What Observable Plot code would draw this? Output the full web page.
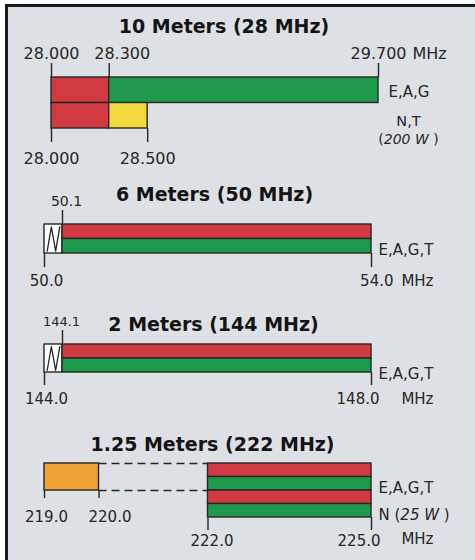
<!DOCTYPE html>
<html><head><meta charset="utf-8">
<script src="https://cdn.jsdelivr.net/npm/d3@7"></script>
<script src="https://cdn.jsdelivr.net/npm/@observablehq/plot@0.6"></script>
<style>
::-webkit-scrollbar{display:none;width:0;height:0;}
html,body{margin:0;padding:0;background:#fff;width:475px;height:560px;overflow:hidden;position:relative;scrollbar-width:none;}
#frame{position:absolute;left:5px;top:4px;width:480px;height:560px;background:#dde0e4;border-left:3px solid #1b1b1b;border-top:3px solid #1b1b1b;}
#charts{position:absolute;left:0;top:0;width:475px;height:560px;overflow:hidden;}
#charts svg{max-width:none;}
</style></head>
<body><div id="frame"></div><div id="charts"></div>
<script>
// ---- legend kinds (band usage) ----
const useKinds = ["RTTY/data", "phone/image", "SSB phone", "CW only", "fixed digital"];
const useFills = ["#d03a40", "#1f9a4c", "#f2d93b", "#ffffff", "#f0a235"];

// ---- 10 Meters ----
const m10Title = "10 Meters (28 MHz)";
const m10Start = [28.0, 28.3, 28.0, 28.3];
const m10End = [28.3, 29.7, 28.3, 28.5];
const m10RowFrom = [0, 0, 1, 1];
const m10RowTo = [1, 1, 2, 2];
const m10Use = ["RTTY/data", "phone/image", "RTTY/data", "SSB phone"];
const m10TopTicks = [28.0, 28.3, 29.7];
const m10TopLabels = ["28.000", "28.300", "29.700"];
const m10BottomTicks = [28.0, 28.5];
const m10BottomLabels = ["28.000", "28.500"];
const m10Classes = ["E,A,G", "N,T"];
const m10Power = ["(200 W )"];

// ---- 6 Meters ----
const m6Title = "6 Meters (50 MHz)";
const m6Start = [50.0, 50.1, 50.1];
const m6End = [50.1, 54.0, 54.0];
const m6RowFrom = [0, 0, 1];
const m6RowTo = [2, 1, 2];
const m6Use = ["CW only", "RTTY/data", "phone/image"];
const m6TopTicks = [50.1];
const m6TopLabels = ["50.1"];
const m6BottomTicks = [50.0, 54.0];
const m6BottomLabels = ["50.0", "54.0"];
const m6Classes = ["E,A,G,T"];

// ---- 2 Meters ----
const m2Title = "2 Meters (144 MHz)";
const m2Start = [144.0, 144.1, 144.1];
const m2End = [144.1, 148.0, 148.0];
const m2RowFrom = [0, 0, 1];
const m2RowTo = [2, 1, 2];
const m2Use = ["CW only", "RTTY/data", "phone/image"];
const m2TopTicks = [144.1];
const m2TopLabels = ["144.1"];
const m2BottomTicks = [144.0, 148.0];
const m2BottomLabels = ["144.0", "148.0"];
const m2Classes = ["E,A,G,T"];

// ---- 1.25 Meters ----
const m125Title = "1.25 Meters (222 MHz)";
const m125Start = [219.0, 222.0, 222.0, 222.0, 222.0];
const m125End = [220.0, 225.0, 225.0, 225.0, 225.0];
const m125RowFrom = [0, 0, 1, 2, 3];
const m125RowTo = [2, 1, 2, 3, 4];
const m125Use = ["fixed digital", "RTTY/data", "phone/image", "RTTY/data", "phone/image"];
const m125LowTicks = [219.0, 220.0];
const m125LowLabels = ["219.0", "220.0"];
const m125MainTicks = [222.0, 225.0];
const m125MainLabels = ["222.0", "225.0"];
const m125LinkRows = [0, 2];
const m125Classes = ["E,A,G,T", "N (25 W )"];

const unit = "MHz";

// ---------------------------------------------
const ink = "#262626";
const titleInk = "#141414";
const FONT = "'DejaVu Sans', sans-serif";

const segs = (s, e, r0, r1, u) => s.map((d, i) => ({x1: d, x2: e[i], y1: r0[i], y2: r1[i], use: u[i]}));
const zig = (seg) => [0.15, 0.38, 0.62, 0.85].map((f, k) => ({
  x: seg.x1 + f * (seg.x2 - seg.x1),
  y: k % 2 ? seg.y1 + 0.08 * (seg.y2 - seg.y1) : seg.y2 - 0.08 * (seg.y2 - seg.y1)
}));

function build(o) {
  const svg = Plot.plot({
    width: 475, height: o.height, margin: 0,
    style: {background: "transparent", fontFamily: FONT, color: ink, overflow: "visible"},
    x: {type: "linear", domain: o.xDomain, range: o.xRange, axis: null},
    y: {type: "linear", domain: [0, o.rows], range: [o.barTop, o.barTop + o.rows * o.rowPx], axis: null},
    color: {type: "ordinal", domain: useKinds, range: useFills},
    marks: o.marks(v => v / o.rowPx)
  });
  svg.style.position = "absolute";
  svg.style.left = "0px";
  svg.style.top = o.top + "px";
  // italicise power notes
  svg.querySelectorAll("text").forEach(t => {
    const m = t.textContent.match(/^(.*\()(\d+ W)( \))$/);
    if (m && t.children.length === 0) {
      t.textContent = "";
      const ns = "http://www.w3.org/2000/svg";
      const a = document.createElementNS(ns, "tspan"); a.textContent = m[1];
      const b = document.createElementNS(ns, "tspan"); b.textContent = m[2]; b.setAttribute("font-style", "italic");
      const c = document.createElementNS(ns, "tspan"); c.textContent = m[3];
      t.append(a, b, c);
    }
  });
  document.getElementById("charts").appendChild(svg);
}

const titleMark = (title, dx, dy) => Plot.text([title], {
  text: d => d, frameAnchor: "top", lineAnchor: "bottom", dx, dy,
  fontSize: 19, fontWeight: "bold", fill: titleInk
});
const barsMark = (data) => Plot.rect(data, {x1: "x1", x2: "x2", y1: "y1", y2: "y2", fill: "use", stroke: ink, strokeWidth: 1.4});

// Panel 1: 10 Meters
const s10 = segs(m10Start, m10End, m10RowFrom, m10RowTo, m10Use);
build({
  top: 0, height: 175, rows: 2, barTop: 77, rowPx: 25.5,
  xDomain: [m10TopTicks[0], m10TopTicks[2]], xRange: [51, 378],
  marks: (px) => [
    titleMark(m10Title, -14, 32),
    barsMark(s10),
    Plot.ruleX(m10TopTicks, {x: d => d, y1: -px(14), y2: 0, stroke: ink, strokeWidth: 1.4}),
    Plot.ruleX(m10BottomTicks, {x: d => d, y1: 2, y2: 2 + px(14), stroke: ink, strokeWidth: 1.4}),
    Plot.text(m10TopLabels, {filter: (d, i) => i !== 1, x: (d, i) => m10TopTicks[i], y: 0, dy: -19, lineAnchor: "bottom", text: d => d, fontSize: 16, fill: ink}),
    Plot.text(m10TopLabels, {filter: (d, i) => i === 1, x: (d, i) => m10TopTicks[i], y: 0, dx: 13, dy: -19, lineAnchor: "bottom", text: d => d, fontSize: 16, fill: ink}),
    Plot.text([unit], {x: () => m10TopTicks[2], y: 0, dx: 34, dy: -19, lineAnchor: "bottom", textAnchor: "start", text: d => d, fontSize: 16, fill: ink}),
    Plot.text(m10BottomLabels, {x: (d, i) => m10BottomTicks[i], y: 2, dy: 35, lineAnchor: "bottom", text: d => d, fontSize: 16, fill: ink}),
    Plot.text(m10Classes, {filter: (d, i) => i === 0, x: () => m10TopTicks[2], y: 0.5, dx: 10, dy: 2, textAnchor: "start", text: d => d, fontSize: 15, fill: ink}),
    Plot.text(m10Classes, {filter: (d, i) => i === 1, x: () => m10TopTicks[2], y: 2, dx: 30, dy: -3, lineAnchor: "bottom", text: d => d, fontSize: 14.5, fill: ink}),
    Plot.text(m10Power, {x: () => m10TopTicks[2], y: 2, dx: 30, dy: 15, lineAnchor: "bottom", text: d => d, fontSize: 14, fill: ink})
  ]
});

// Panels 2 & 3 share a layout
function narrowBand(cfg) {
  const s = segs(cfg.start, cfg.end, cfg.rowFrom, cfg.rowTo, cfg.use);
  const cw = s.find(d => d.use === "CW only");
  build({
    top: cfg.top, height: cfg.height, rows: 2, barTop: cfg.barTop, rowPx: cfg.rowPx,
    xDomain: [cfg.bottomTicks[0], cfg.topTicks[0], cfg.bottomTicks[1]], xRange: [44, 62, 371],
    marks: (px) => [
      titleMark(cfg.title, cfg.titleDx, cfg.titleDy),
      barsMark(s),
      Plot.line(zig(cw), {x: "x", y: "y", stroke: ink, strokeWidth: 1.3}),
      Plot.ruleX(cfg.topTicks, {x: d => d, y1: -px(14), y2: 0, stroke: ink, strokeWidth: 1.4}),
      Plot.ruleX(cfg.bottomTicks, {x: d => d, y1: 2, y2: 2 + px(cfg.tickDown), stroke: ink, strokeWidth: 1.4}),
      Plot.text(cfg.topLabels, {x: (d, i) => cfg.topTicks[i], y: 0, dx: cfg.topLabelDx, dy: cfg.topLabelDy, lineAnchor: "bottom", text: d => d, fontSize: cfg.topFont, fill: ink}),
      Plot.text(cfg.bottomLabels, {filter: (d, i) => i === 0, x: (d, i) => cfg.bottomTicks[i], y: 2, dx: 2, dy: cfg.bottomDy, lineAnchor: "bottom", text: d => d, fontSize: 15, fill: ink}),
      Plot.text(cfg.bottomLabels, {filter: (d, i) => i === 1, x: (d, i) => cfg.bottomTicks[i], y: 2, dx: cfg.endDx, dy: cfg.bottomDy, lineAnchor: "bottom", textAnchor: "end", text: d => d, fontSize: 15, fill: ink}),
      Plot.text([unit], {x: () => cfg.bottomTicks[1], y: 2, dx: 62, dy: cfg.bottomDy, lineAnchor: "bottom", textAnchor: "end", text: d => d, fontSize: 15, fill: ink}),
      Plot.text(cfg.classes, {x: () => cfg.bottomTicks[1], y: 2, dx: 7, dy: cfg.classDy, lineAnchor: "bottom", textAnchor: "start", text: d => d, fontSize: 15, fill: ink})
    ]
  });
}

narrowBand({
  top: 175, height: 125, barTop: 49, rowPx: 14.5, tickDown: 14,
  title: m6Title, titleDx: -23.5, titleDy: 25,
  start: m6Start, end: m6End, rowFrom: m6RowFrom, rowTo: m6RowTo, use: m6Use,
  topTicks: m6TopTicks, topLabels: m6TopLabels, topLabelDx: 4, topLabelDy: -19, topFont: 14,
  bottomTicks: m6BottomTicks, bottomLabels: m6BottomLabels, bottomDy: 32, endDx: 22,
  classes: m6Classes, classDy: 1
});

narrowBand({
  top: 300, height: 120, barTop: 44, rowPx: 14, tickDown: 13,
  title: m2Title, titleDx: -24.5, titleDy: 30,
  start: m2Start, end: m2End, rowFrom: m2RowFrom, rowTo: m2RowTo, use: m2Use,
  topTicks: m2TopTicks, topLabels: m2TopLabels, topLabelDx: -1, topLabelDy: -19, topFont: 13,
  bottomTicks: m2BottomTicks, bottomLabels: m2BottomLabels, bottomDy: 31, endDx: 8,
  classes: m2Classes, classDy: 6
});

// Panel 4: 1.25 Meters
const s125 = segs(m125Start, m125End, m125RowFrom, m125RowTo, m125Use);
build({
  top: 420, height: 140, rows: 4, barTop: 43, rowPx: 13.5,
  xDomain: [m125LowTicks[0], m125MainTicks[1]], xRange: [44, 371],
  marks: (px) => [
    titleMark(m125Title, -25.5, 30),
    Plot.ruleY(m125LinkRows, {y: d => d, x1: () => m125LowTicks[1], x2: () => m125MainTicks[0], stroke: ink, strokeWidth: 1.3, strokeDasharray: "8,5"}),
    barsMark(s125),
    Plot.ruleX(m125LowTicks, {x: d => d, y1: 2, y2: 2 + px(8), stroke: ink, strokeWidth: 1.4}),
    Plot.ruleX(m125MainTicks, {x: d => d, y1: 4, y2: 4 + px(13), stroke: ink, strokeWidth: 1.4}),
    Plot.text(m125LowLabels, {filter: (d, i) => i === 0, x: (d, i) => m125LowTicks[i], y: 2, dx: 2, dy: 31, lineAnchor: "bottom", text: d => d, fontSize: 15, fill: ink}),
    Plot.text(m125LowLabels, {filter: (d, i) => i === 1, x: (d, i) => m125LowTicks[i], y: 2, dx: 11, dy: 31, lineAnchor: "bottom", text: d => d, fontSize: 15, fill: ink}),
    Plot.text(m125MainLabels, {filter: (d, i) => i === 0, x: (d, i) => m125MainTicks[i], y: 4, dx: 4, dy: 28, lineAnchor: "bottom", text: d => d, fontSize: 15, fill: ink}),
    Plot.text(m125MainLabels, {filter: (d, i) => i === 1, x: (d, i) => m125MainTicks[i], y: 4, dx: 9, dy: 28, lineAnchor: "bottom", textAnchor: "end", text: d => d, fontSize: 15, fill: ink}),
    Plot.text([unit], {x: () => m125MainTicks[1], y: 4, dx: 62, dy: 26, lineAnchor: "bottom", textAnchor: "end", text: d => d, fontSize: 15, fill: ink}),
    Plot.text(m125Classes, {x: () => m125MainTicks[1], y: (d, i) => 2 + 2 * i, dx: 7, dy: 2, lineAnchor: "bottom", textAnchor: "start", text: d => d, fontSize: 15, fill: ink})
  ]
});
</script>
</body></html>
